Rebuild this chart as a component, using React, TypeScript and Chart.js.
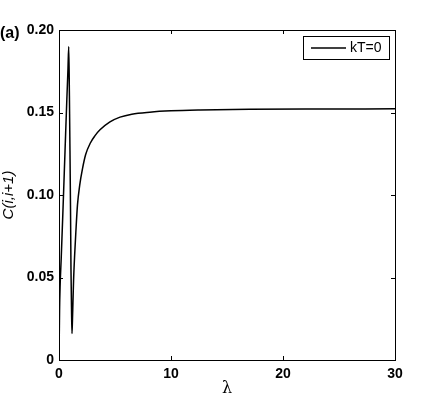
import React, { useEffect, useRef } from "react";
import { Chart, registerables } from "chart.js";

Chart.register(...registerables);

const lambdaValues = [
  0, 0.05, 0.1, 0.2, 0.35, 0.54, 0.7, 0.8, 0.87,
  0.93, 0.98, 1.03, 1.07, 1.12, 1.16,
  1.2, 1.25, 1.3, 1.4, 1.5, 1.65, 1.85, 2.1, 2.38, 2.8, 3.2, 3.66, 4.55, 5.45, 6.5, 8.1, 10, 12.6, 17, 22, 30,
];
const correlationValues = [
  0, 0.03, 0.045, 0.062, 0.09, 0.127, 0.158, 0.176, 0.19,
  0.16, 0.127, 0.09, 0.055, 0.03, 0.016,
  0.024, 0.036, 0.048, 0.064, 0.077, 0.094, 0.106, 0.116, 0.1245, 0.1315, 0.1358, 0.1395, 0.1443, 0.1472, 0.149, 0.1502, 0.151, 0.1515, 0.1519, 0.1521, 0.1522,
];
const xTickValues = [0, 10, 20, 30];
const yTickValues = [0, 0.05, 0.1, 0.15, 0.2];
const seriesLabel = "kT=0";
const panelLabel = "(a)";
const xTitle = "λ";
const yTitle = "C(i,i+1)";

const FONT = "'Liberation Sans', Arial, Helvetica, sans-serif";

const framePlugin = {
  id: "frame",
  afterDraw(chart: any) {
    const { ctx, chartArea } = chart;
    const { left, right, top, bottom } = chartArea;
    const xs = chart.scales.x;
    const ys = chart.scales.y;
    ctx.save();
    ctx.strokeStyle = "#000";
    ctx.lineWidth = 1;
    ctx.strokeRect(Math.round(left) + 0.5, Math.round(top) + 0.5, Math.round(right - left), Math.round(bottom - top));
    const tl = 4;
    ctx.beginPath();
    for (const v of xTickValues) {
      const px = Math.round(xs.getPixelForValue(v)) + 0.5;
      ctx.moveTo(px, bottom);
      ctx.lineTo(px, bottom - tl);
      ctx.moveTo(px, top);
      ctx.lineTo(px, top + tl);
    }
    for (const v of yTickValues) {
      const py = Math.round(ys.getPixelForValue(v)) + 0.5;
      ctx.moveTo(left, py);
      ctx.lineTo(left + tl, py);
      ctx.moveTo(right, py);
      ctx.lineTo(right - tl, py);
    }
    ctx.stroke();

    // legend box
    const bx = 303.5, by = 36.5, bw = 86, bh = 23;
    ctx.fillStyle = "#fff";
    ctx.fillRect(bx, by, bw, bh);
    ctx.strokeStyle = "#000";
    ctx.strokeRect(bx, by, bw, bh);
    ctx.beginPath();
    ctx.lineWidth = 1.3;
    ctx.moveTo(311, 48);
    ctx.lineTo(346, 48);
    ctx.stroke();
    ctx.fillStyle = "#000";
    ctx.font = `14px ${FONT}`;
    ctx.textBaseline = "middle";
    ctx.textAlign = "left";
    ctx.fillText(seriesLabel, 350, 48.5);

    // panel label
    ctx.font = `bold 16px ${FONT}`;
    ctx.textAlign = "left";
    ctx.fillText(panelLabel, 0, 34);
    ctx.restore();
  },
};

export default function App() {
  const ref = useRef<HTMLCanvasElement | null>(null);
  useEffect(() => {
    document.body.style.margin = "0";
    const canvas = ref.current;
    if (!canvas) return;
    const chart = new Chart(canvas, {
      type: "line",
      data: {
        datasets: [
          {
            label: seriesLabel,
            data: lambdaValues.map((x, i) => ({ x, y: correlationValues[i] })),
            borderColor: "#000",
            borderWidth: 1.5,
            pointRadius: 0,
            cubicInterpolationMode: "monotone",
            fill: false,
          },
        ],
      },
      options: {
        animation: false,
        responsive: false,
        maintainAspectRatio: false,
        layout: { padding: { left: 0, top: 30, right: 41, bottom: 0 } },
        plugins: { legend: { display: false }, tooltip: { enabled: false } },
        scales: {
          x: {
            type: "linear",
            min: 0,
            max: 30,
            afterBuildTicks: (scale: any) => {
              scale.ticks = xTickValues.map((v) => ({ value: v }));
            },
            afterFit: (scale: any) => {
              scale.height = 46;
            },
            grid: { display: false, drawTicks: false },
            border: { display: false },
            ticks: {
              padding: 6,
              color: "#000",
              font: { family: FONT, size: 14, weight: "bold" },
              maxRotation: 0,
              callback: (v: any) => String(v),
            },
            title: {
              display: true,
              text: xTitle,
              color: "#000",
              font: { family: "'DejaVu Serif', serif", size: 16 },
              padding: { top: 0, bottom: 8 },
            },
          },
          y: {
            type: "linear",
            min: 0,
            max: 0.2,
            afterBuildTicks: (scale: any) => {
              scale.ticks = yTickValues.map((v) => ({ value: v }));
            },
            afterFit: (scale: any) => {
              scale.width = 59;
            },
            grid: { display: false, drawTicks: false },
            border: { display: false },
            ticks: {
              padding: 5,
              color: "#000",
              font: { family: FONT, size: 14, weight: "bold" },
              callback: (v: any) => (Number(v) === 0 ? "0" : Number(v).toFixed(2)),
            },
            title: {
              display: true,
              text: yTitle,
              color: "#000",
              font: { family: FONT, size: 15, style: "italic" },
              padding: { top: 0, bottom: 0 },
            },
          },
        },
      },
      plugins: [framePlugin],
    } as any);
    return () => chart.destroy();
  }, []);
  return (
    <div style={{ position: "absolute", left: 0, top: 0, width: 436, height: 406 }}>
      <canvas ref={ref} width={436} height={406} style={{ width: 436, height: 406, display: "block" }} />
    </div>
  );
}
